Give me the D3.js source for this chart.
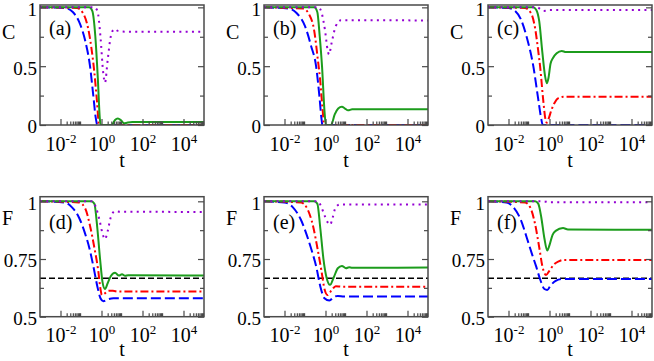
<!DOCTYPE html>
<html>
<head>
<meta charset="utf-8">
<script src="https://cdn.jsdelivr.net/npm/d3@7"></script>
<style>
body { margin: 0; background: #fff; }
svg { display: block; font-family: "Liberation Serif", "Times New Roman", serif; }
svg text { font-family: "Liberation Serif", "Times New Roman", serif; }
</style>
</head>
<body>
<div id="maincontent"></div>
<script>
// x values are log10(t), y values are C (top row) or F (bottom row)
const blueA   = [[-3,1],[-1.8,0.995],[-1.4,0.96],[-1.1,0.88],[-0.8,0.72],[-0.56,0.5],[-0.4,0.25],[-0.28,0.06],[-0.2,0],[5,0]];
const redA    = [[-3,1],[-1.2,0.995],[-0.9,0.95],[-0.65,0.82],[-0.45,0.6],[-0.35,0.45],[-0.22,0.2],[-0.12,0],[5,0]];
const greenA  = [[-3,1],[-0.6,1],[-0.45,0.97],[-0.3,0.75],[-0.18,0.4],[-0.08,0.05],[-0.04,0],[0.5,0],[0.65,0.04],[0.8,0.055],[0.95,0.04],[1.1,0.015],[1.25,0.02],[1.5,0.025],[5,0.025]];
const purpleA = [[-3,1],[-0.35,1],[-0.2,0.97],[-0.05,0.75],[0.08,0.45],[0.17,0.36],[0.3,0.55],[0.45,0.75],[0.62,0.815],[0.8,0.8],[1.2,0.793],[5,0.793]];

const blueB   = [[-3,1],[-1.8,0.99],[-1.4,0.95],[-1.0,0.84],[-0.7,0.67],[-0.46,0.5],[-0.3,0.25],[-0.2,0.06],[-0.15,0],[5,0]];
const redB    = [[-3,1],[-1.1,0.99],[-0.8,0.94],[-0.55,0.8],[-0.37,0.55],[-0.27,0.4],[-0.15,0.15],[-0.06,0],[5,0]];
const greenB  = [[-3,1],[-0.55,1],[-0.4,0.96],[-0.28,0.75],[-0.17,0.5],[-0.05,0.12],[0.02,0],[0.27,0],[0.45,0.09],[0.62,0.14],[0.8,0.155],[0.95,0.14],[1.1,0.125],[1.3,0.133],[5,0.133]];
const purpleB = [[-3,1],[-0.35,1],[-0.2,0.96],[-0.02,0.8],[0.1,0.64],[0.17,0.6],[0.3,0.7],[0.5,0.84],[0.75,0.89],[5,0.889]];

const blueC   = [[-3,1],[-2,0.995],[-1.68,0.97],[-1.4,0.9],[-1.1,0.74],[-0.79,0.5],[-0.55,0.22],[-0.4,0.05],[-0.33,0],[5,0]];
const redC    = [[-3,1],[-1.2,0.995],[-0.9,0.95],[-0.7,0.82],[-0.55,0.63],[-0.46,0.5],[-0.3,0.2],[-0.2,0.05],[-0.13,0.02],[-0.05,0.05],[0.1,0.13],[0.25,0.19],[0.45,0.23],[0.7,0.24],[5,0.24]];
const greenC  = [[-3,1],[-0.8,1],[-0.65,0.98],[-0.5,0.88],[-0.35,0.62],[-0.22,0.42],[-0.13,0.355],[-0.05,0.4],[0.05,0.52],[0.17,0.57],[0.35,0.61],[0.6,0.63],[0.8,0.62],[5,0.62]];
const purpleC = [[-3,1],[-0.6,1],[-0.45,0.985],[-0.3,0.97],[-0.15,0.972],[0,0.978],[5,0.978]];

const blueD   = [[-3,1],[-1.8,0.995],[-1.45,0.975],[-1.1,0.93],[-0.8,0.86],[-0.6,0.8],[-0.4,0.72],[-0.2,0.63],[-0.05,0.58],[0.09,0.567],[0.3,0.575],[0.58,0.58],[5,0.58]];
const redD    = [[-3,1],[-1.1,0.995],[-0.8,0.97],[-0.55,0.89],[-0.35,0.8],[-0.16,0.7],[-0.05,0.62],[0.02,0.594],[0.15,0.6],[0.35,0.612],[0.56,0.612],[0.8,0.609],[5,0.609]];
const greenD  = [[-3,1],[-0.5,1],[-0.35,0.99],[-0.2,0.88],[-0.07,0.75],[0.05,0.65],[0.17,0.62],[0.3,0.645],[0.45,0.675],[0.66,0.69],[0.85,0.678],[1.0,0.684],[1.15,0.677],[1.3,0.68],[5,0.678]];
const purpleD = [[-3,1],[-0.45,1],[-0.3,0.98],[-0.1,0.92],[0.05,0.86],[0.17,0.836],[0.3,0.87],[0.45,0.93],[0.66,0.957],[0.9,0.955],[5,0.954]];

const blueE   = [[-3,1],[-2,0.995],[-1.6,0.975],[-1.2,0.92],[-0.9,0.85],[-0.65,0.78],[-0.46,0.72],[-0.25,0.63],[-0.05,0.58],[0.19,0.57],[0.4,0.585],[0.6,0.59],[0.9,0.587],[5,0.587]];
const redE    = [[-3,1],[-1.2,0.995],[-0.9,0.97],[-0.6,0.89],[-0.4,0.8],[-0.2,0.7],[-0.05,0.62],[0.1,0.594],[0.3,0.615],[0.5,0.632],[0.8,0.63],[5,0.63]];
const greenE  = [[-3,1],[-0.55,1],[-0.4,0.99],[-0.25,0.88],[-0.1,0.75],[0.05,0.67],[0.22,0.638],[0.4,0.67],[0.6,0.71],[0.8,0.72],[1.0,0.71],[1.15,0.714],[1.3,0.712],[5,0.713]];
const purpleE = [[-3,1],[-0.4,1],[-0.25,0.985],[-0.05,0.94],[0.1,0.91],[0.23,0.899],[0.35,0.93],[0.5,0.975],[0.7,0.986],[5,0.986]];

const blueF   = [[-3,1],[-2.1,0.995],[-1.77,0.975],[-1.4,0.92],[-1.1,0.84],[-0.85,0.77],[-0.66,0.72],[-0.45,0.66],[-0.25,0.62],[-0.11,0.616],[0.05,0.635],[0.3,0.655],[0.6,0.663],[5,0.663]];
const redF    = [[-3,1],[-1.2,0.995],[-0.95,0.975],[-0.7,0.9],[-0.5,0.8],[-0.35,0.72],[-0.17,0.681],[0,0.7],[0.2,0.725],[0.45,0.74],[0.67,0.746],[5,0.746]];
const greenF  = [[-3,1],[-0.7,1],[-0.55,0.99],[-0.4,0.93],[-0.25,0.84],[-0.11,0.787],[0,0.81],[0.15,0.855],[0.3,0.872],[0.66,0.884],[0.9,0.878],[5,0.877]];
const purpleF = [[-3,1],[-0.3,1],[0,0.996],[5,0.996]];

const classicalLimit = [[-3,2/3],[5,2/3]];

const panelLabels = ["(a)", "(b)", "(c)", "(d)", "(e)", "(f)"];
const rowLabels = ["C", "F"];

const xMajor = [1e-2, 1, 1e2, 1e4];
const xExponents = ["-2", "0", "2", "4"];
const xMinorMult = [2, 3, 4, 5, 6, 7, 8, 9];

const cTicks = [0, 0.5, 1], cTickLabels = ["0", "0.5", "1"], cMinor = [0.25, 0.75];
const fTicks = [0.5, 0.75, 1], fTickLabels = ["0.5", "0.75", "1"], fMinor = [0.625, 0.875];

// ------------------------------------------------------------------
const W = 654, H = 361;
const pw = 164;
const lefts = [40, 264, 488];
const rows = [
    {top: 5, bottom: 125, domain: [0, 1.02], ticks: cTicks, labels: cTickLabels, minor: cMinor, tY: 42},
    {top: 196.7, bottom: 316.7, domain: [0.5, 1.02], ticks: fTicks, labels: fTickLabels, minor: fMinor, tY: 39.5}
];
const styles = {
    blue:   {color: "#0000ff", dash: "10,4"},
    red:    {color: "#ff0000", dash: "8,3,2,3"},
    green:  {color: "#1c9c1c", dash: null},
    purple: {color: "#9400d3", dash: "2,4.3"},
    black:  {color: "#000000", dash: "6,3"}
};

const panels = [
    [blueA, redA, greenA, purpleA],
    [blueB, redB, greenB, purpleB],
    [blueC, redC, greenC, purpleC],
    [blueD, redD, greenD, purpleD],
    [blueE, redE, greenE, purpleE],
    [blueF, redF, greenF, purpleF]
];
const order = ["blue", "red", "green", "purple"];
const serif = "'Liberation Serif', 'Times New Roman', serif";

var xMinor = [];
xMajor.forEach(function(m) {
    xMinorMult.forEach(function(k) { if (m * k < 1e5) xMinor.push(m * k); });
});

var svg = d3.select("#maincontent").append("svg")
    .attr("width", W)
    .attr("height", H);

var frameColor = "#4a4a4a";

panels.forEach(function(series, i) {
    var row = rows[Math.floor(i / 3)];
    var ph = row.bottom - row.top;
    var g = svg.append("g")
        .attr("transform", "translate(" + lefts[i % 3] + "," + row.top + ")");

    var x = d3.scaleLog().domain([1e-3, 1e5]).range([0, pw]);
    var y = d3.scaleLinear().domain(row.domain).range([ph, 0]);

    g.append("clipPath").attr("id", "clip" + i)
        .append("rect").attr("width", pw).attr("height", ph);

    var line = d3.line()
        .x(d => x(Math.pow(10, d[0])))
        .y(d => y(d[1]))
        .curve(d3.curveMonotoneX);

    var plot = g.append("g").attr("clip-path", "url(#clip" + i + ")");

    if (i >= 3) {
        plot.append("path")
            .datum(classicalLimit)
            .attr("d", line)
            .attr("fill", "none")
            .attr("stroke", styles.black.color)
            .attr("stroke-width", 1.5)
            .attr("stroke-dasharray", styles.black.dash);
    }

    series.forEach(function(s, j) {
        var st = styles[order[j]];
        plot.append("path")
            .datum(s)
            .attr("d", line)
            .attr("fill", "none")
            .attr("stroke", st.color)
            .attr("stroke-width", 2)
            .attr("stroke-dasharray", st.dash);
    });

    // axes (ticks inward)
    var xAx = g.append("g").attr("transform", "translate(0," + ph + ")")
        .call(d3.axisBottom(x).tickValues(xMajor).tickSize(-6).tickPadding(0));
    g.append("g").attr("transform", "translate(0," + ph + ")")
        .call(d3.axisBottom(x).tickValues(xMinor).tickSize(-3.5).tickFormat(""));

    xAx.selectAll(".tick text").each(function(d, k) {
        var t = d3.select(this).text(null)
            .attr("y", 25.5).attr("dy", null)
            .attr("fill", "#000")
            .style("font-size", "20px")
            .style("font-family", serif);
        t.append("tspan").text("10");
        t.append("tspan").text(xExponents[k]).style("font-size", "13px").attr("dy", -8);
    });

    g.append("g")
        .call(d3.axisLeft(y).tickValues(row.ticks).tickSize(-6).tickPadding(3)
            .tickFormat((d, k) => row.labels[k]))
        .selectAll(".tick text")
            .attr("dy", "0.42em")
            .attr("fill", "#000")
            .style("font-size", "19px")
            .style("font-family", serif);
    g.append("g")
        .call(d3.axisLeft(y).tickValues(row.minor).tickSize(-4).tickFormat(""));
    g.append("g").attr("transform", "translate(" + pw + ",0)")
        .call(d3.axisRight(y).tickValues(row.ticks).tickSize(-6).tickFormat(""));
    g.append("g").attr("transform", "translate(" + pw + ",0)")
        .call(d3.axisRight(y).tickValues(row.minor).tickSize(-4).tickFormat(""));

    g.selectAll(".domain").remove();
    g.selectAll(".tick line")
        .attr("stroke", frameColor)
        .attr("stroke-width", 1.2);

    g.append("rect")
        .attr("width", pw)
        .attr("height", ph)
        .attr("fill", "none")
        .attr("stroke", frameColor)
        .attr("stroke-width", 1.5);

    g.append("text")
        .attr("x", 9)
        .attr("y", i < 3 ? 30 : 32)
        .style("font-size", "20px")
        .style("font-family", serif)
        .text(panelLabels[i]);

    g.append("text")
        .attr("x", -38)
        .attr("y", i < 3 ? 34 : 28.5)
        .style("font-size", "20px")
        .style("font-family", serif)
        .text(rowLabels[Math.floor(i / 3)]);

    g.append("text")
        .attr("x", pw / 2)
        .attr("y", ph + row.tY)
        .attr("text-anchor", "middle")
        .style("font-size", "20px")
        .style("font-family", serif)
        .text("t");
});
</script>
</body>
</html>
